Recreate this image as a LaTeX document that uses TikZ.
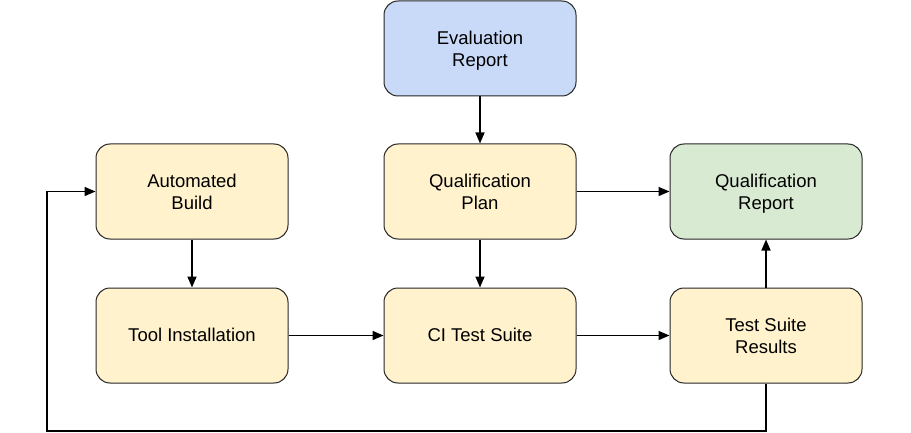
\documentclass[tikz,border=0pt]{standalone}
\usepackage{fontspec}
\setmainfont{Liberation Sans}
\usetikzlibrary{arrows.meta}
\definecolor{bluefill}{HTML}{C9DAF8}
\definecolor{yellowfill}{HTML}{FFF2CC}
\definecolor{greenfill}{HTML}{D9EAD3}
\newcommand{\tstrut}{\rule[-6.6pt]{0pt}{24.8pt}}
\newcommand{\bstrut}{\rule[-4pt]{0pt}{15.4pt}}
\begin{document}
\begin{tikzpicture}[x=1pt,y=-1pt,
  box/.style={draw=black!85,line width=1pt,rounded corners=14pt,minimum width=192pt,minimum height=95pt,align=center,font=\fontsize{18.5}{22}\selectfont,inner sep=0pt},
  conn/.style={line width=1.6pt,-{Triangle[length=11pt,width=9pt]}}]
\useasboundingbox (0,0) rectangle (911,433);
\node[box,fill=bluefill] (eval) at (480,48.5) {\tstrut Evaluation\\\bstrut Report};
\node[box,fill=yellowfill] (ab) at (192,191.5) {\tstrut Automated\\\bstrut Build};
\node[box,fill=yellowfill] (qp) at (480,191.5) {\tstrut Qualification\\\bstrut Plan};
\node[box,fill=greenfill] (qr) at (766,191.5) {\tstrut Qualification\\\bstrut Report};
\node[box,fill=yellowfill] (ti) at (192,335.5) {\rule[-3.6pt]{0pt}{18.4pt}Tool Installation};
\node[box,fill=yellowfill] (ci) at (480,335.5) {\rule[-3.6pt]{0pt}{18.4pt}CI Test Suite};
\node[box,fill=yellowfill] (tsr) at (766,335.5) {\tstrut Test Suite\\\bstrut Results};
\coordinate (c1) at (766,431);
\coordinate (c2) at (47,431);
\coordinate (c3) at (47,191.5);
\draw[conn] (eval) -- (qp);
\draw[conn] (qp) -- (qr);
\draw[conn] (qp) -- (ci);
\draw[conn] (ab) -- (ti);
\draw[conn] (ti) -- (ci);
\draw[conn] (ci) -- (tsr);
\draw[conn] (tsr) -- (qr);
\draw[conn] (tsr.south) -- (c1) -- (c2) -- (c3) -- (ab.west);
\end{tikzpicture}
\end{document}
